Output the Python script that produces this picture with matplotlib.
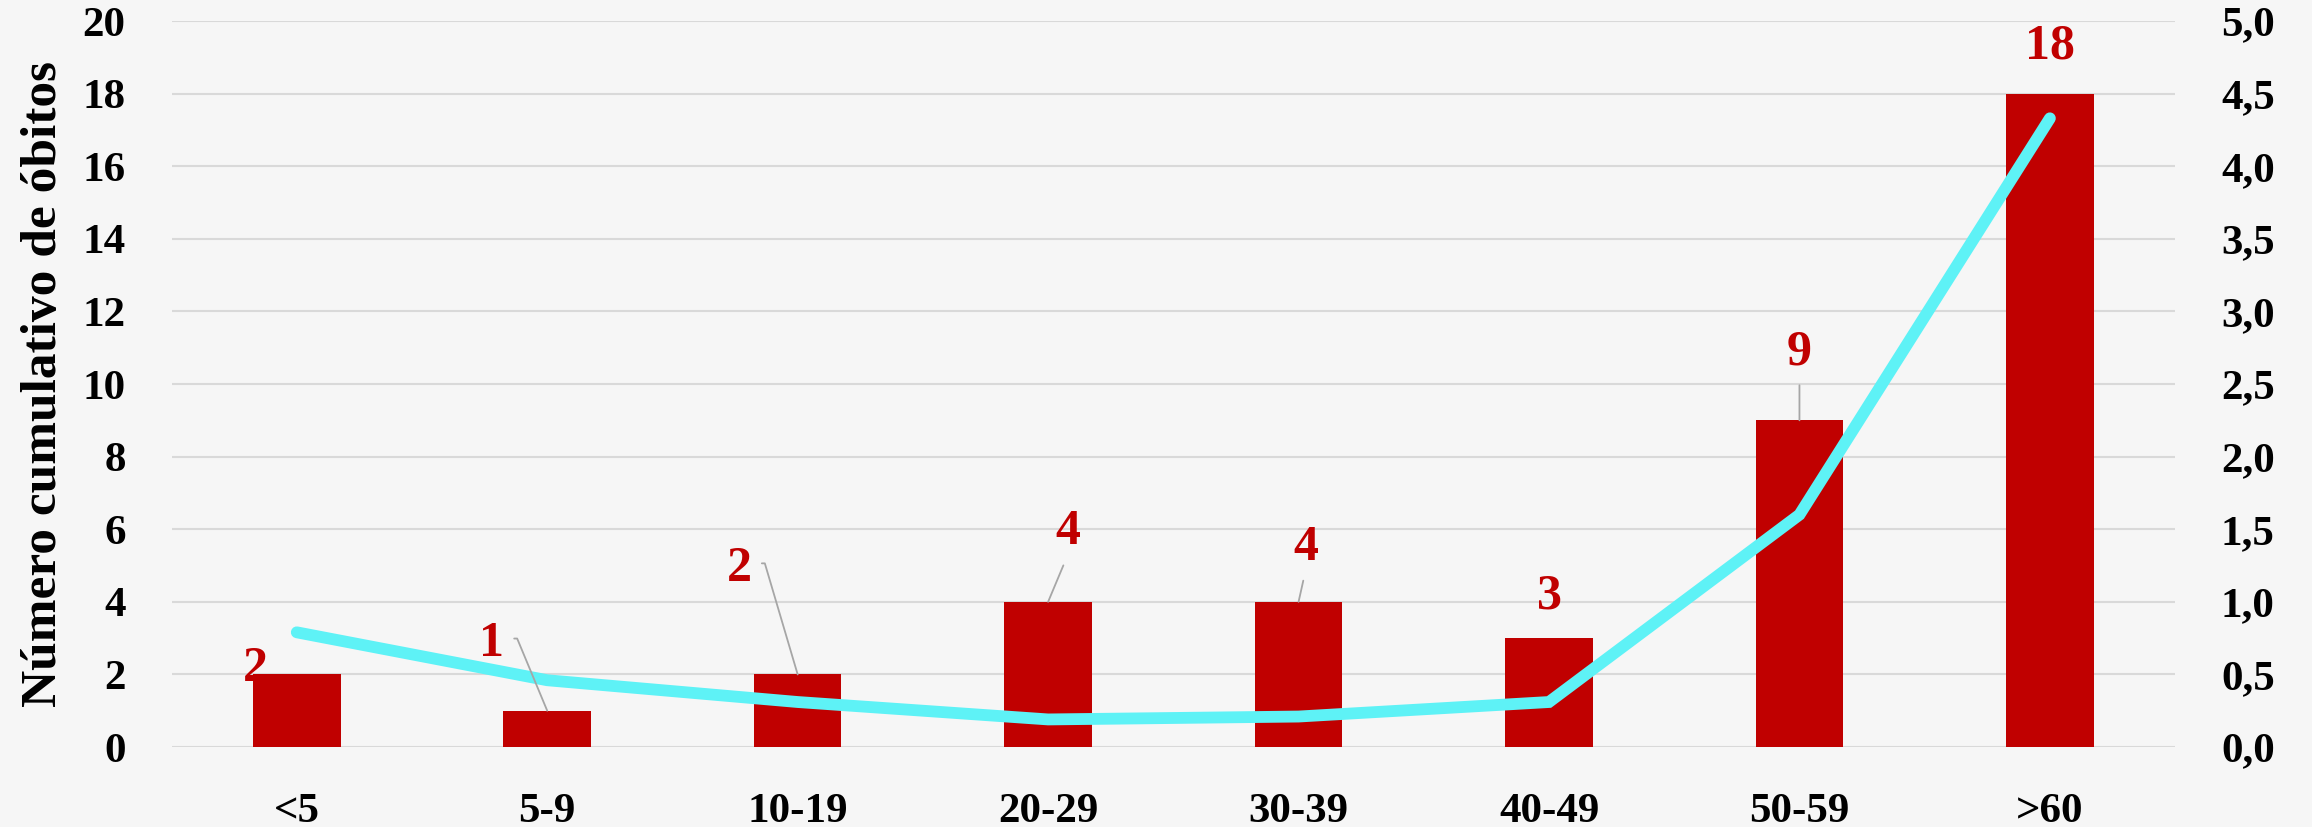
import matplotlib
matplotlib.use("Agg")
import matplotlib.pyplot as plt
import matplotlib.ticker as plticker
import numpy as np

# data
faixas = ["<5", "5-9", "10-19", "20-29", "30-39", "40-49", "50-59", ">60"]
obitos = [2, 1, 2, 4, 4, 3, 9, 18]
taxa = [0.79, 0.46, 0.31, 0.19, 0.21, 0.31, 1.60, 4.33]
ylabel = "Número cumulativo de óbitos"

# label placement (offset in points from bar top) and leader style
lbl_offset = [(-30, 4), (-40, 48), (-42, 76), (14, 50), (5, 39), (0, 30), (0, 49), (0, 34)]
lbl_leader = [None, "elbow", "elbow", "down", "down", None, "down", None]

BAR_RED = "#C00000"
CYAN = "#5EF2F6"
GRID = "#D9D9D9"
BG = "#F6F6F6"
FONT = ["Liberation Serif", "DejaVu Serif"]

plt.rcParams["font.family"] = FONT
plt.rcParams["font.weight"] = "bold"

fig = plt.figure(figsize=(23.12, 8.27), dpi=100, facecolor=BG)
ax = fig.add_axes([0.0742, 0.0967, 0.8666, 0.8779])
ax.set_facecolor(BG)
ax2 = ax.twinx()

x = np.arange(len(faixas))
ax.bar(x, obitos, width=0.35, color=BAR_RED, zorder=2)
ax2.plot(x, taxa, color=CYAN, lw=8.5, solid_capstyle="round", solid_joinstyle="miter", zorder=3)

ax.set_xlim(-0.5, len(faixas) - 0.5)
ax.set_ylim(0, 20)
ax2.set_ylim(0, 5)
ax.set_yticks(np.arange(0, 21, 2))
ax2.set_yticks(np.arange(0, 5.01, 0.5))
ax2.yaxis.set_major_formatter(plticker.FuncFormatter(lambda v, _: f"{v:.1f}".replace(".", ",")))

ax.set_xticks(x)
ax.set_xticklabels(faixas)

ax.yaxis.grid(True, color=GRID, lw=1.5)
ax.set_axisbelow(True)

for a in (ax, ax2):
    for s in a.spines.values():
        s.set_visible(False)
    a.tick_params(length=0, labelsize=31, pad=33)
    for t in a.get_xticklabels() + a.get_yticklabels():
        t.set_fontweight("bold")
ax.tick_params(axis="x", pad=33)

ax.set_ylabel(ylabel, fontsize=37, fontweight="bold", labelpad=11)

# data labels
for i, v in enumerate(obitos):
    dx, dy = lbl_offset[i]
    kind = lbl_leader[i]
    arrow = None
    if kind == "elbow":
        arrow = dict(arrowstyle="-", color="#A6A6A6", lw=1.3, relpos=(1.0, 0.62),
                     shrinkA=0, shrinkB=0,
                     connectionstyle="arc,angleA=0,armA=13,angleB=90,armB=0,rad=0")
    elif kind == "down":
        arrow = dict(arrowstyle="-", color="#A6A6A6", lw=1.3, relpos=(0.5, 0.0),
                     shrinkA=0, shrinkB=0)
    ax2.annotate(str(v), xy=(i, v), xycoords=ax.transData,
                 xytext=(dx, dy), textcoords="offset points",
                 ha="center", va="center", color=BAR_RED,
                 fontsize=36, fontweight="bold", arrowprops=arrow, zorder=5,
                 bbox=dict(boxstyle="square,pad=0.2", fc="none", ec="none"))

plt.savefig("out.png", dpi=100, facecolor=BG)
